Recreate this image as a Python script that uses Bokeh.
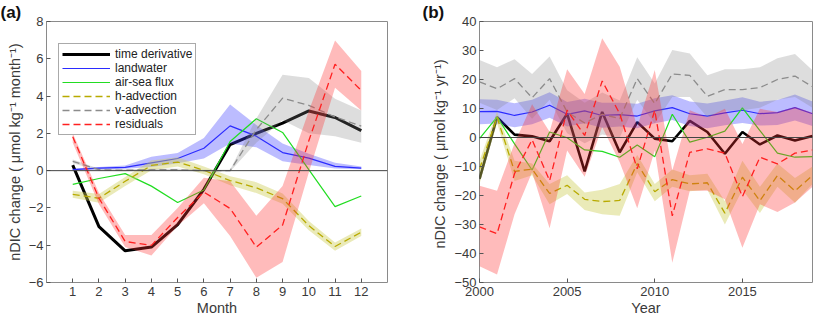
from bokeh.plotting import figure
from bokeh.models import (Range1d, FixedTicker, Span, Legend, LegendItem, ColumnDataSource, Title)
from bokeh.layouts import row
from bokeh.embed import file_html
from bokeh.resources import INLINE

# ---------------- panel (a): monthly climatology ----------------
months = [1, 2, 3, 4, 5, 6, 7, 8, 9, 10, 11, 12]
month_ticks = [1, 2, 3, 4, 5, 6, 7, 8, 9, 10, 11, 12]
a_yticks = [-6, -4, -2, 0, 2, 4, 6, 8]

time_derivative_a = [0.3, -3.0, -4.3, -4.1, -2.9, -1.0, 1.4, 2.0, 2.55, 3.2, 2.85, 2.15]
landwater_a = [0.05, 0.13, 0.18, 0.42, 0.65, 1.2, 2.4, 1.85, 0.97, 0.67, 0.23, 0.13]
landwater_a_lo = [0.0, 0.06, 0.1, 0.2, 0.4, 0.65, 1.45, 1.25, 0.5, 0.3, 0.12, 0.08]
landwater_a_hi = [0.1, 0.2, 0.27, 0.75, 0.95, 1.75, 3.55, 2.45, 1.45, 0.9, 0.42, 0.22]
air_sea_a = [-0.74, -0.42, -0.16, -0.83, -1.71, -1.04, 1.56, 2.78, 2.05, 0.05, -1.93, -1.36]
h_adv_a = [-1.27, -1.48, -0.57, 0.28, 0.46, 0.02, -0.53, -0.92, -1.5, -2.95, -4.07, -3.3]
h_adv_a_lo = [-1.45, -1.72, -0.82, 0.02, 0.22, -0.2, -0.78, -1.2, -1.78, -3.2, -4.3, -3.5]
h_adv_a_hi = [-1.08, -1.25, -0.34, 0.55, 0.72, 0.22, -0.3, -0.62, -1.22, -2.7, -3.85, -3.1]
v_adv_a = [0.5, 0.05, 0.02, 0.05, 0.05, 0.0, 0.0, 2.2, 3.89, 3.5, 2.88, 2.39]
v_adv_a_lo = [0.4, 0.0, -0.03, 0.0, 0.0, -0.05, -0.05, 1.5, 2.7, 2.0, 1.85, 1.5]
v_adv_a_hi = [0.6, 0.1, 0.07, 0.1, 0.1, 0.05, 0.05, 2.8, 5.15, 4.97, 3.85, 3.23]
residuals_a = [1.82, -1.48, -3.8, -4.01, -2.51, -1.15, -2.03, -4.1, -2.92, 1.6, 5.71, 4.3]
residuals_a_lo = [1.5, -1.8, -4.1, -4.55, -2.95, -1.75, -3.5, -5.75, -4.9, -0.1, 4.45, 3.23]
residuals_a_hi = [2.0, -1.2, -3.45, -3.45, -2.0, -0.38, -0.57, -2.42, -0.83, 3.2, 6.98, 5.35]

# ---------------- panel (b): interannual ----------------
years = list(range(2000, 2020))
year_ticks = [2000, 2005, 2010, 2015]
b_yticks = [-50, -40, -30, -20, -10, 0, 10, 20, 30, 40]

time_derivative_b = [-14.3, 7.0, 1.0, 0.4, -1.3, 8.2, -11.7, 8.8, -5.1, 5.3,
                     -0.4, -1.3, 5.7, 1.9, -5.6, 1.9, -2.4, 0.7, -1.0, 0.5]
landwater_b = [8.9, 9.0, 7.6, 8.8, 11.1, 8.0, 9.2, 7.6, 7.9, 7.4,
               9.2, 10.3, 8.2, 7.4, 8.5, 9.4, 8.2, 8.6, 10.3, 8.2]
landwater_b_lo = [4.6, 4.8, 3.5, 4.6, 6.8, 3.8, 4.9, 3.4, 3.8, 3.2,
                  4.9, 6.0, 4.0, 3.2, 4.2, 5.0, 4.1, 4.3, 5.9, 4.0]
landwater_b_hi = [13.2, 13.0, 11.8, 13.0, 15.6, 12.2, 13.4, 12.0, 12.0, 11.6,
                  13.5, 14.6, 12.4, 11.7, 12.8, 13.9, 12.3, 12.9, 14.8, 12.4]
air_sea_b = [-0.4, 7.0, -2.2, -11.2, 1.9, -0.1, -4.3, -4.8, -6.8, -2.6,
             -6.6, 8.0, -1.6, 0.1, 2.2, 10.2, 2.4, -5.4, -6.8, -6.6]
h_adv_b = [-10.9, 7.0, -11.7, -10.9, -19.3, -16.5, -21.3, -22.1, -21.7, -9.0,
           -18.7, -14.5, -16.0, -15.6, -26.1, -13.7, -21.8, -13.1, -18.4, -13.1]
h_adv_b_lo = [-16.0, 5.0, -15.0, -13.0, -23.0, -19.5, -25.0, -26.5, -27.0, -12.0,
              -22.0, -17.0, -18.5, -18.0, -30.0, -18.0, -26.0, -17.0, -22.5, -16.0]
h_adv_b_hi = [-8.0, 9.0, -8.0, -9.0, -16.0, -13.0, -19.0, -18.0, -16.0, -6.0,
              -16.0, -11.0, -13.0, -12.5, -22.0, -8.0, -17.0, -9.0, -14.0, -10.0]
v_adv_b = [19.2, 16.8, 20.3, 13.7, 20.3, 8.8, 5.0, 8.0, 6.5, 20.3,
           11.7, 21.9, 21.4, 14.2, 16.5, 16.5, 17.2, 20.0, 21.2, 17.5]
v_adv_b_lo = [12.0, 9.5, 13.5, 6.5, 13.0, 1.5, -2.0, 1.0, 0.0, 13.0,
              4.8, 14.0, 14.0, 7.0, 9.2, 9.4, 10.3, 13.0, 14.0, 10.3]
v_adv_b_hi = [26.7, 24.2, 27.0, 21.9, 27.9, 16.3, 12.0, 15.5, 12.8, 27.7,
              18.6, 30.2, 29.0, 21.5, 23.5, 23.5, 24.2, 27.3, 28.8, 23.2]
residuals_b = [-30.8, -33.2, -12.4, -0.8, -14.9, 9.4, 0.7, 19.5, 8.2, -10.8,
               9.4, -27.0, -5.1, -3.9, -5.4, -20.4, -6.8, -9.1, -5.4, -4.3]
residuals_b_lo = [-44.4, -47.2, -26.5, -12.0, -31.3, -4.5, -13.5, 3.6, -8.5, -24.4,
                  -4.5, -43.2, -18.4, -18.4, -21.3, -38.0, -23.0, -25.7, -22.4, -17.0]
residuals_b_hi = [-16.6, -18.4, -2.0, 11.5, 2.0, 23.5, 15.0, 34.2, 24.4, 3.6,
                  23.3, -11.4, 9.4, 7.0, 9.9, -2.2, 9.9, 8.8, 10.5, 8.5]

legend_labels = ["time derivative", "landwater", "air-sea flux",
                 "h-advection", "v-advection", "residuals"]

FONT = "Liberation Sans"
TXT = "#3a3a3a"

C_BLACK = "#000000"
C_BLUE = "#2b2bff"
C_GREEN = "#22dd22"
C_YEL = "#b8aa00"
C_GRAY = "#8c8c8c"
C_RED = "#ff2020"

B_BLUE = ("#3c3cff", 0.34)
B_YEL = ("#cccc55", 0.42)
B_GRAY = ("#808080", 0.27)
B_RED = ("#ff3030", 0.33)


def style(p, xticks, yticks, xlabel, ylabel, panel, title_offset):
    p.grid.visible = False
    p.outline_line_color = "#8a8a8a"
    p.outline_line_width = 1
    p.background_fill_color = "white"
    p.border_fill_color = "white"
    for ax, ticks in ((p.xaxis[0], xticks), (p.yaxis[0], yticks)):
        ax.ticker = FixedTicker(ticks=ticks)
        ax.major_tick_in = 4
        ax.major_tick_out = 0
        ax.major_tick_line_color = "#555555"
        ax.minor_tick_line_color = None
        ax.axis_line_color = None
        ax.major_label_text_font = FONT
        ax.major_label_text_font_size = "13px"
        ax.major_label_text_color = TXT
        ax.axis_label_text_font = FONT
        ax.axis_label_text_font_size = "14.5px"
        ax.axis_label_text_font_style = "normal"
        ax.axis_label_text_color = TXT
    p.xaxis[0].axis_label = xlabel
    p.yaxis[0].axis_label = ylabel
    p.xaxis[0].major_label_standoff = 4
    p.xaxis[0].axis_label_standoff = 1
    p.yaxis[0].major_label_standoff = 3
    p.yaxis[0].axis_label_standoff = 3
    p.add_layout(Span(location=0, dimension="width", line_color="#444444", line_width=1))
    p.title = Title(text=panel, align="left", offset=title_offset, standoff=0,
                    text_font=FONT, text_font_size="17px", text_font_style="bold",
                    text_color="#111111")


def draw(p, x, td, lw, lw_lo, lw_hi, asf, ha, ha_lo, ha_hi, va, va_lo, va_hi, rs, rs_lo, rs_hi, tdw):
    src = ColumnDataSource(dict(x=x, td=td, lw=lw, lw_lo=lw_lo, lw_hi=lw_hi, asf=asf,
                                ha=ha, ha_lo=ha_lo, ha_hi=ha_hi, va=va, va_lo=va_lo, va_hi=va_hi,
                                rs=rs, rs_lo=rs_lo, rs_hi=rs_hi))
    r_td = p.line("x", "td", source=src, line_color=C_BLACK, line_width=tdw)
    p.varea(x="x", y1="lw_lo", y2="lw_hi", source=src, fill_color=B_BLUE[0], fill_alpha=B_BLUE[1])
    r_lw = p.line("x", "lw", source=src, line_color=C_BLUE, line_width=1.2)
    r_as = p.line("x", "asf", source=src, line_color=C_GREEN, line_width=1.2)
    p.varea(x="x", y1="ha_lo", y2="ha_hi", source=src, fill_color=B_YEL[0], fill_alpha=B_YEL[1])
    r_ha = p.line("x", "ha", source=src, line_color=C_YEL, line_width=1.3, line_dash="7 4")
    p.varea(x="x", y1="va_lo", y2="va_hi", source=src, fill_color=B_GRAY[0], fill_alpha=B_GRAY[1])
    r_va = p.line("x", "va", source=src, line_color=C_GRAY, line_width=1.3, line_dash="7 4")
    p.varea(x="x", y1="rs_lo", y2="rs_hi", source=src, fill_color=B_RED[0], fill_alpha=B_RED[1])
    r_rs = p.line("x", "rs", source=src, line_color=C_RED, line_width=1.3, line_dash="7 4")
    return [r_td, r_lw, r_as, r_ha, r_va, r_rs]


# ---------------- figure (a) ----------------
pa = figure(width=410, height=322, x_range=Range1d(0, 13), y_range=Range1d(-6, 8),
            output_backend="svg", toolbar_location=None,
            min_border_left=46, min_border_right=23, min_border_top=20, min_border_bottom=40)
style(pa, month_ticks, a_yticks, "Month", "nDIC change ( \u03bcmol kg\u207b\u00b9 month\u207b\u00b9)",
      "(a)", -46)
rend_a = draw(pa, months, time_derivative_a, landwater_a, landwater_a_lo, landwater_a_hi,
              air_sea_a, h_adv_a, h_adv_a_lo, h_adv_a_hi, v_adv_a, v_adv_a_lo, v_adv_a_hi,
              residuals_a, residuals_a_lo, residuals_a_hi, 3)

legend = Legend(items=[LegendItem(label=l, renderers=[r]) for l, r in zip(legend_labels, rend_a)],
                location=(12, 147), label_text_font=FONT, label_text_font_size="12px",
                label_text_color="#222222", glyph_width=48, glyph_height=12, label_height=12,
                spacing=0, padding=3, margin=0, label_standoff=5,
                border_line_color="#555555", border_line_width=1,
                background_fill_color="white", background_fill_alpha=1)
pa.add_layout(legend)

# ---------------- figure (b) ----------------
pb = figure(width=404, height=322, x_range=Range1d(2000, 2019), y_range=Range1d(-50, 40),
            output_backend="svg", toolbar_location=None,
            min_border_left=69, min_border_right=2, min_border_top=20, min_border_bottom=40)
style(pb, year_ticks, b_yticks, "Year", "nDIC change ( \u03bcmol kg\u207b\u00b9  yr\u207b\u00b9)",
      "(b)", -57)
draw(pb, years, time_derivative_b, landwater_b, landwater_b_lo, landwater_b_hi,
     air_sea_b, h_adv_b, h_adv_b_lo, h_adv_b_hi, v_adv_b, v_adv_b_lo, v_adv_b_hi,
     residuals_b, residuals_b_lo, residuals_b_hi, 2.6)

layout = row(pa, pb)
open("out.html", "w").write(file_html(layout, INLINE))
